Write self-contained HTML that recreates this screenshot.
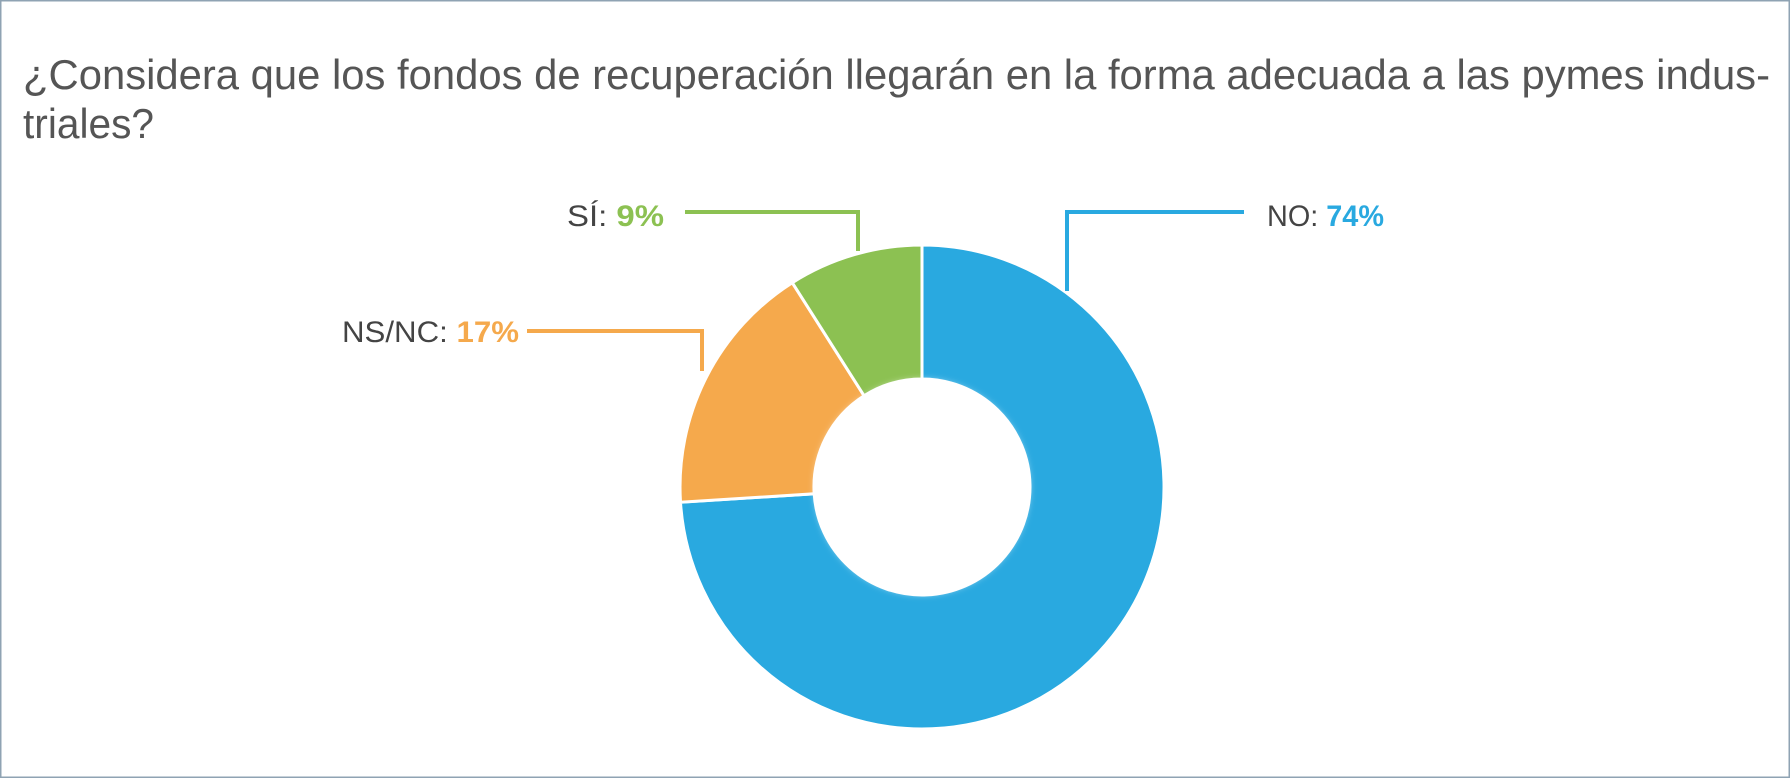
<!DOCTYPE html>
<html><head><meta charset="utf-8"><style>
html,body{margin:0;padding:0;background:#fff;}
svg{display:block;}
</style></head><body>
<svg width="1790" height="778" viewBox="0 0 1790 778" xmlns="http://www.w3.org/2000/svg">
<defs>
<filter id="blur" x="-20%" y="-20%" width="140%" height="140%"><feGaussianBlur stdDeviation="4"/></filter>
</defs>
<rect x="0.5" y="0.5" width="1789" height="777" fill="#fff" stroke="#8fa3b3" stroke-width="2"/>
<g font-family="'Liberation Sans Narrow','Liberation Sans',sans-serif" fill="#555">
<text x="23" y="89" font-size="42" textLength="1747" lengthAdjust="spacingAndGlyphs">¿Considera que los fondos de recuperación llegarán en la forma adecuada a las pymes indus-</text>
<text x="23" y="138" font-size="42" textLength="131" lengthAdjust="spacingAndGlyphs">triales?</text>
</g>
<g stroke="#fff" stroke-width="3" stroke-linejoin="miter">
<path d="M922,245 A242,242 0 1 1 680.5,502.2 L814.2,493.8 A108,108 0 1 0 922,379 Z" fill="#29a9e0"/>
<path d="M680.5,502.2 A242,242 0 0 1 792.3,282.7 L864.1,395.8 A108,108 0 0 0 814.2,493.8 Z" fill="#f5a94c"/>
<path d="M792.3,282.7 A242,242 0 0 1 922,245 L922,379 A108,108 0 0 0 864.1,395.8 Z" fill="#8cc152"/>
</g>
<circle cx="922" cy="487" r="106" fill="#fff" filter="url(#blur)"/>
<g fill="none" stroke-width="4">
<polyline points="685,212 858,212 858,251" stroke="#8cc152"/>
<polyline points="527,331 702,331 702,371" stroke="#f5a94c"/>
<polyline points="1244,212 1067,212 1067,291" stroke="#29a9e0"/>
</g>
<g font-family="'Liberation Sans Narrow','Liberation Sans',sans-serif" font-size="30">
<text x="567" y="226" fill="#444" textLength="97" lengthAdjust="spacingAndGlyphs">SÍ: <tspan fill="#8cc152" font-weight="bold">9%</tspan></text>
<text x="342" y="342" fill="#444" textLength="177" lengthAdjust="spacingAndGlyphs">NS/NC: <tspan fill="#f5a94c" font-weight="bold">17%</tspan></text>
<text x="1267" y="226" fill="#444" textLength="117" lengthAdjust="spacingAndGlyphs">NO: <tspan fill="#29a9e0" font-weight="bold">74%</tspan></text>
</g>
</svg>
</body></html>
